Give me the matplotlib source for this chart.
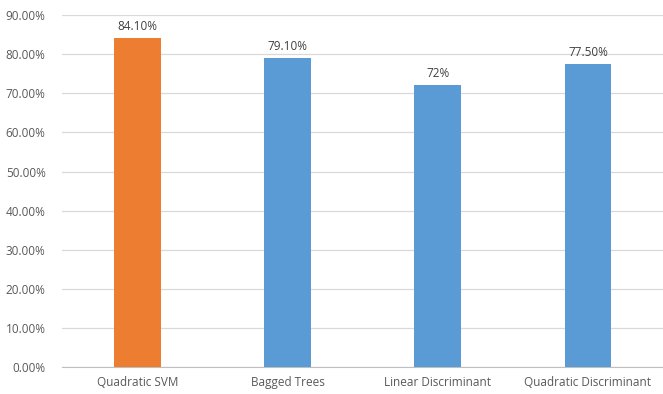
import matplotlib
matplotlib.use("Agg")
import matplotlib.pyplot as plt
from matplotlib.ticker import FuncFormatter

# Data
models = ['Quadratic SVM', 'Bagged Trees', 'Linear Discriminant', 'Quadratic Discriminant']
accuracy = [84.10, 79.10, 72.0, 77.50]
value_labels = ['84.10%', '79.10%', '72%', '77.50%']
bar_colors = ['#ED7D31', '#5B9BD5', '#5B9BD5', '#5B9BD5']

TEXT = '#595959'
plt.rcParams['font.family'] = ['Open Sans', 'DejaVu Sans']

fig = plt.figure(figsize=(6.63, 3.94), dpi=100)
ax = fig.add_axes([0.094, 0.068, 0.906, 0.894])

x = range(len(models))
bars = ax.bar(x, accuracy, width=0.31, color=bar_colors, zorder=3)

for bar, lab in zip(bars, value_labels):
    ax.text(bar.get_x() + bar.get_width() / 2, bar.get_height() + 1.3, lab,
            ha='center', va='bottom', fontsize=8.5, color='#404040')

ax.set_xlim(-0.5, len(models) - 0.5)
ax.set_ylim(0, 90)
ax.set_yticks(range(0, 91, 10))
ax.yaxis.set_major_formatter(FuncFormatter(lambda v, p: f'{v:.2f}%'))
ax.set_xticks(list(x))
ax.set_xticklabels(models)

ax.grid(axis='y', color='#D9D9D9', linewidth=0.9, zorder=0)
for s in ['top', 'right', 'left']:
    ax.spines[s].set_visible(False)
ax.spines['bottom'].set_color('#BFBFBF')
ax.tick_params(axis='both', length=0, colors=TEXT)
ax.tick_params(axis='y', pad=12, labelsize=8.5)
ax.tick_params(axis='x', pad=6, labelsize=8.5)

plt.savefig('out.png', dpi=100)
